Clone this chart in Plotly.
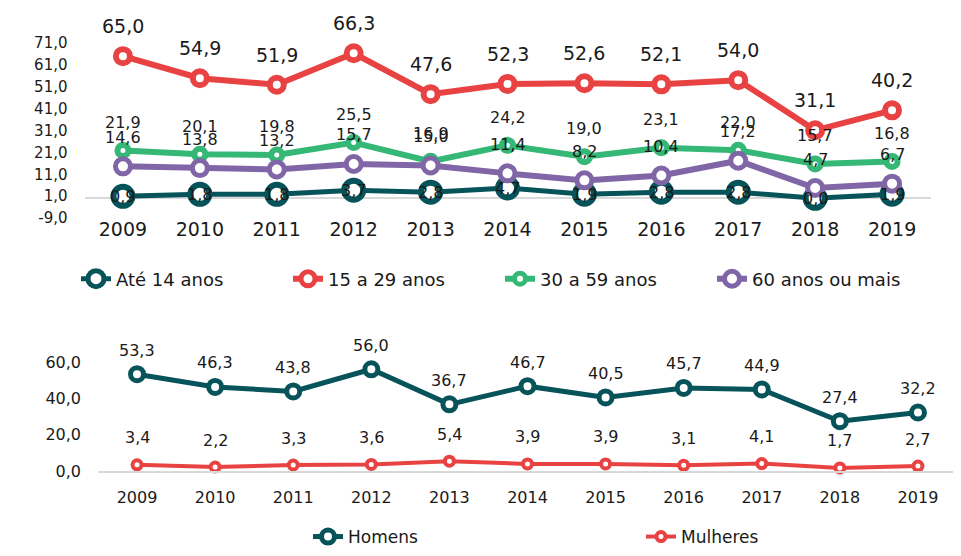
import plotly.graph_objects as go

years = ["2009", "2010", "2011", "2012", "2013", "2014", "2015", "2016", "2017", "2018", "2019"]

ate14 = [0.9, 1.8, 1.8, 3.7, 2.8, 4.7, 1.9, 2.8, 2.8, 0.0, 1.9]
a15_29 = [65.0, 54.9, 51.9, 66.3, 47.6, 52.3, 52.6, 52.1, 54.0, 31.1, 40.2]
a30_59 = [21.9, 20.1, 19.8, 25.5, 16.9, 24.2, 19.0, 23.1, 22.0, 15.7, 16.8]
a60 = [14.6, 13.8, 13.2, 15.7, 15.0, 11.4, 8.2, 10.4, 17.2, 4.7, 6.7]

homens = [53.3, 46.3, 43.8, 56.0, 36.7, 46.7, 40.5, 45.7, 44.9, 27.4, 32.2]
mulheres = [3.4, 2.2, 3.3, 3.6, 5.4, 3.9, 3.9, 3.1, 4.1, 1.7, 2.7]

top_ticks = [-9, 1, 11, 21, 31, 41, 51, 61, 71]
bottom_ticks = [0, 20, 40, 60]

TEAL = "#07535A"
RED = "#E84342"
GREEN = "#35B776"
PURPLE = "#8066A6"
FONT = "DejaVu Sans"
TXT = "#1a1a1a"

# page has an 8px body margin: figure is drawn 8px right/down of the window origin
OFF = 8
W, H = 961 - OFF, 556 - OFF


def px_x(sx):
    return (sx - OFF) / W


def px_y(sy):
    return 1 - (sy - OFF) / H


def fmt(v):
    return f"{v:.1f}".replace(".", ",")


fig = go.Figure()

top_series = [
    ("Até 14 anos", ate14, TEAL, 19, 6, 5, 0, 16),
    ("15 a 29 anos", a15_29, RED, 14, 6, 6, 30, 19),
    ("30 a 59 anos", a30_59, GREEN, 11, 6, 6, 28, 16),
    ("60 anos ou mais", a60, PURPLE, 15, 5, 6, 29, 16),
]
annotations = []
for name, vals, col, msize, mlw, lw, shift, fs in top_series:
    fig.add_trace(go.Scatter(
        x=years, y=vals, name=name, mode="lines+markers",
        line=dict(color=col, width=lw),
        marker=dict(size=msize, color="white", line=dict(color=col, width=mlw)),
        xaxis="x", yaxis="y", legend="legend", cliponaxis=False,
    ))
    for i, v in enumerate(vals):
        annotations.append(dict(
            x=i, y=v, xref="x", yref="y", text=fmt(v), showarrow=False,
            yshift=shift, font=dict(family=FONT, size=fs, color=TXT),
        ))

bottom_series = [
    ("Homens", homens, TEAL, 13, 5, 5, 24, 16),
    ("Mulheres", mulheres, RED, 9, 4, 4, 27, 16),
]
for name, vals, col, msize, mlw, lw, shift, fs in bottom_series:
    fig.add_trace(go.Scatter(
        x=years, y=vals, name=name, mode="lines+markers",
        line=dict(color=col, width=lw),
        marker=dict(size=msize, color="white", line=dict(color=col, width=mlw)),
        xaxis="x2", yaxis="y2", legend="legend2", cliponaxis=False,
    ))
    for i, v in enumerate(vals):
        annotations.append(dict(
            x=i, y=v, xref="x2", yref="y2", text=fmt(v), showarrow=False,
            yshift=shift, font=dict(family=FONT, size=fs, color=TXT),
        ))

fig.update_layout(
    width=W, height=H,
    margin=dict(l=0, r=0, t=0, b=0, autoexpand=False),
    paper_bgcolor="white", plot_bgcolor="white",
    font=dict(family=FONT, color=TXT),
    annotations=annotations,
    xaxis=dict(
        domain=[px_x(84.5), px_x(930.5)], type="category", range=[-0.5, 10.5],
        showgrid=False, zeroline=False, showline=False, ticks="",
        tickfont=dict(size=19, color=TXT), anchor="free", position=px_y(216),
    ),
    yaxis=dict(
        domain=[px_y(218), px_y(43)], range=[-9, 71],
        tickvals=top_ticks, ticktext=[fmt(t) for t in top_ticks],
        showgrid=False, zeroline=True, zerolinecolor="#d9d9d9",
        zerolinewidth=2, showline=False, ticks="", ticklabelstandoff=16,
        tickfont=dict(size=15, color=TXT), anchor="x",
    ),
    xaxis2=dict(
        domain=[px_x(98), px_x(957)], type="category", range=[-0.5, 10.5],
        showgrid=False, zeroline=False, showline=True, linecolor="#d9d9d9", linewidth=2,
        ticks="", tickfont=dict(size=16, color=TXT), anchor="y2", ticklabelstandoff=11,
    ),
    yaxis2=dict(
        domain=[px_y(471), px_y(362)], range=[0, 60],
        tickvals=bottom_ticks, ticktext=[fmt(t) for t in bottom_ticks],
        showgrid=False, zeroline=False, showline=False, ticks="",
        ticklabelstandoff=16, tickfont=dict(size=16, color=TXT), anchor="x2",
    ),
    legend=dict(
        orientation="h", x=68 / W, xanchor="left", y=px_y(279), yanchor="middle",
        entrywidth=167, entrywidthmode="pixels",
        font=dict(family=FONT, size=18, color=TXT), bgcolor="rgba(0,0,0,0)",
    ),
    legend2=dict(
        orientation="h", x=300 / W, xanchor="left", y=px_y(537), yanchor="middle",
        entrywidth=288, entrywidthmode="pixels",
        font=dict(family=FONT, size=17, color=TXT), bgcolor="rgba(0,0,0,0)",
    ),
    showlegend=True,
)

fig.write_html("out.html")
